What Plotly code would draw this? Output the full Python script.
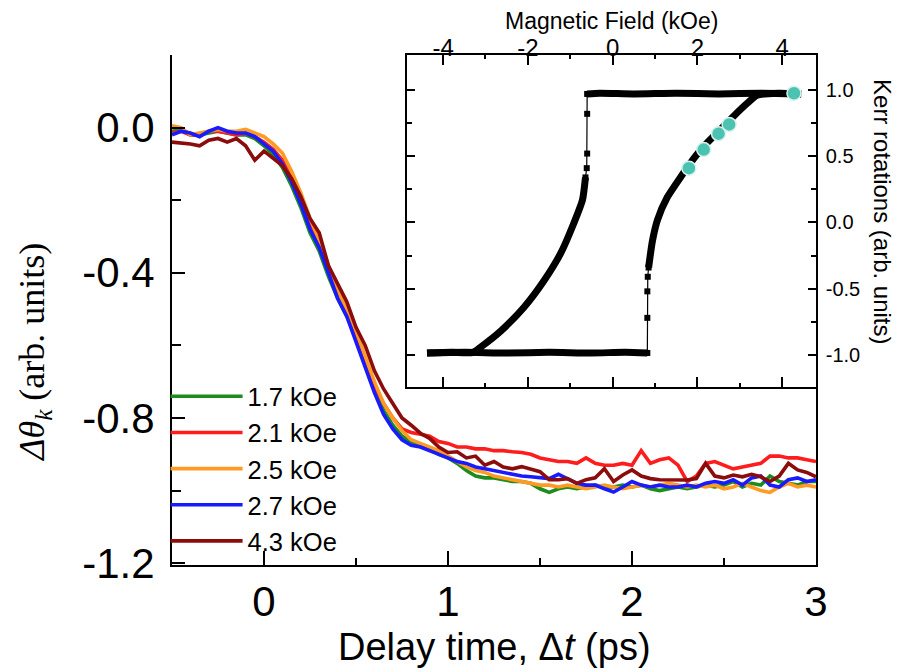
import plotly.graph_objects as go

# ---------------- main panel data ----------------
delay_ps = [-0.50, -0.45, -0.40, -0.35, -0.30, -0.25, -0.20, -0.15, -0.10, -0.05,
            0.00, 0.05, 0.10, 0.15, 0.20, 0.25, 0.30, 0.35, 0.40, 0.45,
            0.50, 0.55, 0.60, 0.65, 0.70, 0.75, 0.80, 0.85, 0.90, 0.95,
            1.00, 1.05, 1.10, 1.15, 1.20, 1.25, 1.30, 1.35, 1.40, 1.45,
            1.50, 1.55, 1.60, 1.65, 1.70, 1.75, 1.80, 1.85, 1.90, 1.95,
            2.00, 2.05, 2.10, 2.15, 2.20, 2.25, 2.30, 2.35, 2.40, 2.45,
            2.50, 2.55, 2.60, 2.65, 2.70, 2.75, 2.80, 2.85, 2.90, 2.95,
            3.00]

series_labels = ["1.7 kOe", "2.1 kOe", "2.5 kOe", "2.7 kOe", "4.3 kOe"]

kerr_1p7 = [-0.010, -0.005, -0.020, -0.020, -0.015, -0.010, -0.015, -0.020, -0.020, -0.030,
            -0.050, -0.075, -0.110, -0.160, -0.220, -0.290, -0.340, -0.410, -0.470, -0.520,
            -0.580, -0.650, -0.720, -0.780, -0.820, -0.850, -0.865, -0.875, -0.885, -0.900,
            -0.910, -0.925, -0.945, -0.960, -0.965, -0.965, -0.970, -0.975, -0.975, -0.980,
            -0.995, -1.005, -0.995, -0.990, -0.995, -0.990, -0.985, -0.990, -0.990, -0.985,
            -0.990, -0.985, -0.995, -1.000, -0.995, -0.990, -0.995, -0.990, -0.985, -0.990,
            -0.985, -0.975, -0.990, -0.980, -0.985, -0.960, -0.975, -0.980, -0.985, -0.975,
            -0.975]

kerr_2p1 = [-0.015, -0.010, -0.020, -0.020, -0.010, -0.010, -0.015, -0.020, -0.015, -0.025,
            -0.040, -0.060, -0.090, -0.140, -0.200, -0.270, -0.320, -0.390, -0.460, -0.510,
            -0.570, -0.640, -0.710, -0.760, -0.800, -0.830, -0.840, -0.845, -0.850, -0.865,
            -0.870, -0.880, -0.880, -0.885, -0.885, -0.890, -0.890, -0.893, -0.895, -0.900,
            -0.910, -0.915, -0.920, -0.920, -0.925, -0.910, -0.925, -0.930, -0.930, -0.925,
            -0.930, -0.890, -0.925, -0.915, -0.910, -0.930, -0.975, -0.960, -0.925, -0.920,
            -0.930, -0.940, -0.935, -0.930, -0.925, -0.905, -0.905, -0.910, -0.910, -0.915,
            -0.920]

kerr_2p5 = [0.005, 0.000, -0.020, -0.015, -0.010, -0.005, -0.010, -0.010, -0.005, -0.015,
            -0.025, -0.045, -0.070, -0.120, -0.180, -0.250, -0.310, -0.380, -0.450, -0.500,
            -0.560, -0.630, -0.700, -0.760, -0.800, -0.835, -0.860, -0.870, -0.880, -0.890,
            -0.905, -0.920, -0.935, -0.945, -0.950, -0.960, -0.965, -0.970, -0.975, -0.980,
            -0.985, -0.985, -0.990, -0.985, -0.990, -0.995, -0.990, -0.985, -0.990, -0.995,
            -0.990, -0.985, -0.990, -0.985, -0.980, -0.985, -0.990, -0.985, -0.990, -0.985,
            -0.995, -0.990, -0.980, -0.990, -1.000, -1.005, -0.990, -0.980, -0.990, -0.985,
            -0.990]

kerr_2p7 = [-0.020, -0.010, -0.015, -0.025, -0.010, 0.000, -0.010, -0.015, -0.015, -0.025,
            -0.045, -0.065, -0.100, -0.150, -0.210, -0.280, -0.330, -0.400, -0.470, -0.520,
            -0.590, -0.660, -0.730, -0.790, -0.830, -0.860, -0.875, -0.880, -0.890, -0.900,
            -0.910, -0.920, -0.925, -0.935, -0.940, -0.945, -0.950, -0.955, -0.960, -0.962,
            -0.965, -0.967, -0.955, -0.967, -0.980, -0.985, -0.985, -0.995, -1.004, -0.990,
            -0.975, -0.985, -0.990, -0.985, -0.990, -0.990, -0.985, -0.990, -0.980, -0.975,
            -0.980, -0.970, -0.985, -0.965, -0.960, -0.985, -0.990, -0.970, -0.965, -0.975,
            -0.970]

kerr_4p3 = [-0.040, -0.042, -0.045, -0.050, -0.035, -0.030, -0.040, -0.030, -0.050, -0.090,
            -0.065, -0.085, -0.105, -0.140, -0.190, -0.250, -0.290, -0.380, -0.430, -0.480,
            -0.550, -0.600, -0.670, -0.720, -0.760, -0.800, -0.820, -0.842, -0.856, -0.880,
            -0.895, -0.893, -0.910, -0.905, -0.930, -0.920, -0.935, -0.940, -0.934, -0.940,
            -0.948, -0.970, -0.970, -0.967, -0.980, -0.970, -0.965, -0.940, -0.975, -0.957,
            -0.943, -0.960, -0.967, -0.970, -0.971, -0.971, -0.971, -0.967, -0.925, -0.960,
            -0.965, -0.957, -0.962, -0.955, -0.962, -0.975, -0.960, -0.925, -0.943, -0.950,
            -0.962]

series_values = [kerr_1p7, kerr_2p1, kerr_2p5, kerr_2p7, kerr_4p3]
series_colors = ["#1c8c1c", "#ff1c1c", "#ff9a22", "#1a1aff", "#8a0c0c"]

main_y_ticks = [0.0, -0.4, -0.8, -1.2]
main_y_ticktext = ["0.0", "-0.4", "-0.8", "-1.2"]
main_y_minor = [-0.2, -0.6, -1.0]
main_x_ticks = [0, 1, 2, 3]
main_x_ticktext = ["0", "1", "2", "3"]
main_x_minor = [0.5, 1.5, 2.5]

# ---------------- inset (hysteresis loop) data ----------------
# descending sweep (+H -> -H)
field_desc = [4.45, 3.5, 2.5, 1.5, 0.5, -0.3, -0.60,
              -0.60, -0.60, -0.61,
              -0.64, -0.71, -0.92, -1.22, -1.62, -2.09, -2.64, -3.11, -3.29, -3.80, -4.38]
kerr_desc = [0.970, 0.975, 0.970, 0.975, 0.970, 0.975, 0.970,
             0.82, 0.52, 0.41,
             0.34, 0.17, -0.01, -0.23, -0.44, -0.64, -0.82, -0.94, -0.980, -0.980, -0.985]
# ascending sweep (-H -> +H)
field_asc = [-4.38, -3.5, -2.5, -1.5, -0.5, 0.3, 0.82,
             0.82, 0.82, 0.83,
             0.85, 0.94, 1.06, 1.29, 1.60, 1.84, 2.14, 2.54, 2.85, 3.18, 3.41, 3.90, 4.45]
kerr_asc = [-0.985, -0.980, -0.985, -0.980, -0.985, -0.980, -0.985,
            -0.72, -0.52, -0.41,
            -0.34, -0.14, 0.02, 0.19, 0.34, 0.45, 0.57, 0.70, 0.80, 0.90, 0.96, 0.975, 0.970]
# probe fields marked on the loop
probe_field = [1.80, 2.15, 2.50, 2.75, 4.28]
probe_kerr = [0.41, 0.55, 0.67, 0.74, 0.975]

inset_x_ticks = [-4, -2, 0, 2, 4]
inset_x_ticktext = ["-4", "-2", "0", "2", "4"]
inset_x_minor = [-3, -1, 1, 3]
inset_y_ticks = [1.0, 0.5, 0.0, -0.5, -1.0]
inset_y_ticktext = ["1.0", "0.5", "0.0", "-0.5", "-1.0"]
inset_y_minor = [0.75, 0.25, -0.25, -0.75]

FONT = "Liberation Sans, Arial, sans-serif"
SERIF = "Liberation Serif, Times New Roman, serif"

fig = go.Figure()

for name, vals, col in zip(series_labels, series_values, series_colors):
    fig.add_trace(go.Scatter(x=delay_ps, y=vals, mode="lines", name=name,
                             line=dict(color=col, width=3.6),
                             xaxis="x", yaxis="y"))

# loop: thick dense parts and thin jumps with sparse square markers
def loop_traces(fx, ky):
    segs = [(0, 7, "thick"), (6, 11, "thin"), (10, len(fx), "thick")]
    for a, b, kind in segs:
        if kind == "thick":
            fig.add_trace(go.Scatter(x=fx[a:b], y=ky[a:b], mode="lines",
                                     line=dict(color="black", width=7, shape="spline", smoothing=0.6),
                                     showlegend=False, xaxis="x2", yaxis="y2", hoverinfo="skip"))
        else:
            fig.add_trace(go.Scatter(x=fx[a:b], y=ky[a:b], mode="lines+markers",
                                     line=dict(color="black", width=1.2),
                                     marker=dict(symbol="square", size=6, color="black"),
                                     showlegend=False, xaxis="x2", yaxis="y2", hoverinfo="skip"))

loop_traces(field_desc, kerr_desc)
loop_traces(field_asc, kerr_asc)

fig.add_trace(go.Scatter(x=probe_field, y=probe_kerr, mode="markers",
                         marker=dict(size=14, color="#4cc3b1",
                                     line=dict(color="#d8f2ee", width=1.5)),
                         showlegend=False, xaxis="x2", yaxis="y2"))

axis_common = dict(showgrid=False, zeroline=False, showline=True, linecolor="black",
                   automargin=False)

fig.update_layout(
    width=900, height=672,
    margin=dict(l=172, r=84, t=55, b=107),
    paper_bgcolor="white", plot_bgcolor="white",
    font=dict(family=FONT, color="black"),
    xaxis=dict(domain=[0, 1], range=[-0.5, 3.0], anchor="y",
               tickmode="array", tickvals=main_x_ticks, ticktext=main_x_ticktext,
               ticks="inside", ticklen=14, tickwidth=2, tickcolor="black",
               minor=dict(tickvals=main_x_minor, ticks="inside", ticklen=7,
                          tickwidth=2, tickcolor="black"),
               linewidth=2, tickfont=dict(size=42, family=FONT),
               ticklabelstandoff=-1, **axis_common),
    yaxis=dict(domain=[0, 1], range=[-1.205, 0.2], anchor="x", mirror=True,
               tickmode="array", tickvals=main_y_ticks, ticktext=main_y_ticktext,
               ticks="inside", ticklen=13, tickwidth=2, tickcolor="black",
               minor=dict(tickvals=main_y_minor, ticks="inside", ticklen=9,
                          tickwidth=2, tickcolor="black"),
               linewidth=2, tickfont=dict(size=42, family=FONT),
               ticklabelstandoff=7, **axis_common),
    xaxis2=dict(domain=[0.365, 1], range=[-4.85, 4.80], anchor="y2", side="top",
                mirror="ticks",
                tickmode="array", tickvals=inset_x_ticks, ticktext=inset_x_ticktext,
                ticks="inside", ticklen=10, tickwidth=1.5, tickcolor="black",
                minor=dict(tickvals=inset_x_minor, ticks="inside", ticklen=4,
                           tickwidth=1.5, tickcolor="black"),
                linewidth=1.5, tickfont=dict(size=24, family=FONT),
                ticklabelstandoff=-12, **axis_common),
    yaxis2=dict(domain=[0.349, 1], range=[-1.242, 1.264], anchor="x2", side="right",
                mirror="ticks",
                tickmode="array", tickvals=inset_y_ticks, ticktext=inset_y_ticktext,
                ticks="inside", ticklen=8, tickwidth=1.5, tickcolor="black",
                minor=dict(tickvals=inset_y_minor, ticks="inside", ticklen=5,
                           tickwidth=1.5, tickcolor="black"),
                linewidth=1.5, tickfont=dict(size=20, family=FONT),
                ticklabelstandoff=4, **axis_common),
    legend=dict(x=-0.01, y=0.376, xanchor="left", yanchor="top",
                bgcolor="rgba(0,0,0,0)", borderwidth=0,
                font=dict(size=25.5, family=FONT), itemwidth=72,
                tracegroupgap=0),
    showlegend=True,
    annotations=[
        dict(text="Delay time, Δ<i>t</i> (ps)", xref="paper", yref="paper",
             x=0.5, y=-0.161, xanchor="center", yanchor="middle", showarrow=False,
             font=dict(size=38, family=FONT)),
        dict(text="<i>Δθ<sub>k</sub></i> (arb. units)", xref="paper", yref="paper",
             x=-0.213, y=0.418, xanchor="center", yanchor="middle", showarrow=False,
             textangle=-90, font=dict(size=36, family=SERIF)),
        dict(text="Magnetic Field (kOe)", xref="paper", yref="paper",
             x=0.683, y=1.066, xanchor="center", yanchor="middle", showarrow=False,
             font=dict(size=23, family=FONT)),
        dict(text="Kerr rotations (arb. units)", xref="paper", yref="paper",
             x=1.104, y=0.692, xanchor="center", yanchor="middle", showarrow=False,
             textangle=90, font=dict(size=24, family=FONT)),
    ],
)

fig.write_html("out.html", config={"displayModeBar": False},
               post_script="document.body.style.margin='0';document.body.style.padding='0';")
